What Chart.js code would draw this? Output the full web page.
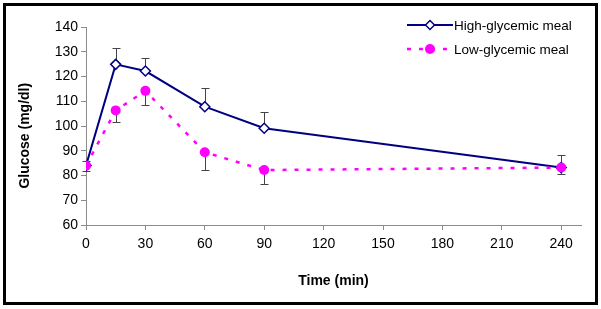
<!DOCTYPE html>
<html>
<head>
<meta charset="utf-8">
<script src="https://cdn.jsdelivr.net/npm/chart.js@4/dist/chart.umd.min.js"></script>
<style>
  html, body { margin: 0; padding: 0; background: #fff; }
  #wrap { position: relative; width: 601px; height: 309px; }
</style>
</head>
<body>
<div id="wrap"><canvas id="c" width="601" height="309"></canvas></div>
<script>
// ---- data ----
const times = [0, 15, 30, 60, 90, 240];
const highGlucose = [84, 124.9, 122.2, 107.8, 99.1, 83.2];
const lowGlucose = [84, 106.3, 114.2, 89.4, 82.2, 83.2];
const highErrUp = [2, 6.5, 5.4, 7.4, 6.4, 5.1];
const lowErrDown = [2, 4.6, 5.8, 7.3, 5.6, 2.6];
const xTicks = [0, 30, 60, 90, 120, 150, 180, 210, 240];
const yTicks = [60, 70, 80, 90, 100, 110, 120, 130, 140];
const seriesNames = ['High-glycemic meal', 'Low-glycemic meal'];

const NAVY = '#000080';
const PINK = '#FF00FF';
const AXIS = '#8c8c8c';
const FONT = "'Liberation Sans', Arial, sans-serif";

const toPoints = (ys) => times.map((t, i) => ({ x: t, y: ys[i] }));

const errorBars = {
  id: 'errorBars',
  beforeDatasetsDraw(chart) {
    const { ctx, scales: { x, y } } = chart;
    ctx.save();
    ctx.strokeStyle = '#444';
    ctx.lineWidth = 1;
    const cap = 4;
    const draw = (vals, errs, dir) => {
      vals.forEach((v, i) => {
        const px = Math.round(x.getPixelForValue(times[i])) + 0.5;
        const p0 = y.getPixelForValue(v);
        const p1 = Math.round(y.getPixelForValue(v + dir * errs[i])) + 0.5;
        ctx.beginPath();
        ctx.moveTo(px, p0);
        ctx.lineTo(px, p1);
        ctx.moveTo(px - cap, p1);
        ctx.lineTo(px + cap, p1);
        ctx.stroke();
      });
    };
    draw(highGlucose, highErrUp, 1);
    draw(lowGlucose, lowErrDown, -1);
    ctx.restore();
  }
};

const frameAndLegend = {
  id: 'frameAndLegend',
  afterDraw(chart) {
    const { ctx } = chart;
    ctx.save();
    // outer frame
    ctx.strokeStyle = '#000';
    ctx.lineWidth = 3;
    ctx.strokeRect(4.5, 4.5, 592, 299);
    // legend
    const x0 = 407, x1 = 453, xm = 430;
    const rows = [25, 49];
    ctx.font = '13.5px ' + FONT;
    ctx.textBaseline = 'middle';
    ctx.textAlign = 'left';
    // high
    ctx.strokeStyle = NAVY; ctx.lineWidth = 2; ctx.setLineDash([]);
    ctx.beginPath(); ctx.moveTo(x0, rows[0]); ctx.lineTo(x1, rows[0]); ctx.stroke();
    ctx.fillStyle = '#fff'; ctx.lineWidth = 1.5;
    ctx.beginPath();
    ctx.moveTo(xm - 4.5, rows[0]); ctx.lineTo(xm, rows[0] - 4.5);
    ctx.lineTo(xm + 4.5, rows[0]); ctx.lineTo(xm, rows[0] + 4.5); ctx.closePath();
    ctx.fill(); ctx.stroke();
    ctx.fillStyle = '#000';
    ctx.fillText(seriesNames[0], 454, rows[0] + 1);
    // low
    ctx.strokeStyle = PINK; ctx.lineWidth = 2.5; ctx.setLineDash([4, 8]);
    ctx.beginPath(); ctx.moveTo(x0, rows[1]); ctx.lineTo(x1, rows[1]); ctx.stroke();
    ctx.setLineDash([]);
    ctx.fillStyle = PINK;
    ctx.beginPath(); ctx.arc(xm, rows[1], 5, 0, Math.PI * 2); ctx.fill();
    ctx.fillStyle = '#000';
    ctx.fillText(seriesNames[1], 454, rows[1] + 1);
    ctx.restore();
  }
};

new Chart(document.getElementById('c'), {
  type: 'line',
  data: {
    datasets: [
      {
        label: seriesNames[0],
        data: toPoints(highGlucose),
        borderColor: NAVY,
        borderWidth: 2,
        pointStyle: 'rectRot',
        pointRadius: 5,
        pointBorderWidth: 1.5,
        pointBackgroundColor: '#fff',
        pointBorderColor: NAVY,
        tension: 0,
        order: 2
      },
      {
        label: seriesNames[1],
        data: toPoints(lowGlucose),
        borderColor: PINK,
        borderWidth: 2.5,
        borderDash: [4, 8],
        pointStyle: 'circle',
        pointRadius: 5,
        pointBorderWidth: 0,
        pointBackgroundColor: PINK,
        pointBorderColor: PINK,
        tension: 0,
        order: 1
      }
    ]
  },
  options: {
    responsive: false,
    animation: false,
    events: [],
    layout: { padding: { left: 0, right: 20, top: 27, bottom: 0 } },
    plugins: { legend: { display: false }, tooltip: { enabled: false } },
    scales: {
      x: {
        type: 'linear',
        min: 0,
        max: 250,
        afterBuildTicks: (s) => { s.ticks = xTicks.map(v => ({ value: v })); },
        afterFit: (s) => { s.height = 84; },
        border: { color: AXIS, width: 1 },
        grid: { drawOnChartArea: false, drawTicks: true, tickLength: 5, color: AXIS },
        ticks: { color: '#000', font: { family: FONT, size: 14 }, padding: 6, maxRotation: 0 },
        title: { display: true, text: 'Time (min)', color: '#000',
                 font: { family: FONT, size: 14, weight: 'bold' }, padding: { top: 0, bottom: 19 } }
      },
      y: {
        type: 'linear',
        min: 60,
        max: 140,
        afterBuildTicks: (s) => { s.ticks = yTicks.map(v => ({ value: v })); },
        afterFit: (s) => { s.width = 86; },
        border: { color: AXIS, width: 1 },
        grid: { drawOnChartArea: false, drawTicks: true, tickLength: 5, color: AXIS },
        ticks: { color: '#000', font: { family: FONT, size: 14 }, padding: 3 },
        title: { display: true, text: 'Glucose (mg/dl)     ', color: '#000',
                 font: { family: FONT, size: 14, weight: 'bold' }, padding: { top: 17, bottom: 0 } }
      }
    }
  },
  plugins: [errorBars, frameAndLegend]
});
</script>
</body>
</html>
